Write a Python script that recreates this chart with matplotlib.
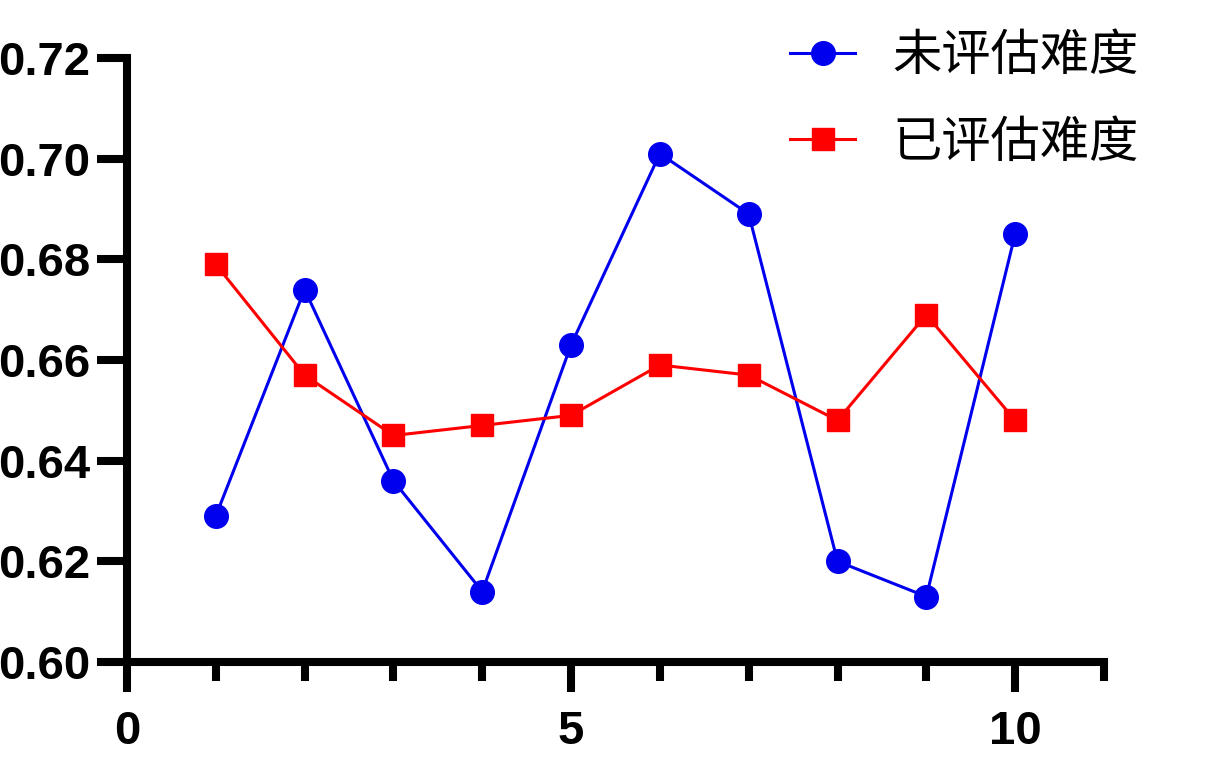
import matplotlib
matplotlib.use("Agg")
from matplotlib import pyplot as plt
from matplotlib.ticker import MultipleLocator, FormatStrFormatter

plt.rcParams['font.family'] = ['Liberation Sans', 'Noto Sans CJK SC', 'DejaVu Sans']

x = [1, 2, 3, 4, 5, 6, 7, 8, 9, 10]
unrated = [0.629, 0.674, 0.636, 0.614, 0.663, 0.701, 0.689, 0.620, 0.613, 0.685]
rated = [0.679, 0.657, 0.645, 0.647, 0.649, 0.659, 0.657, 0.648, 0.669, 0.648]
labels = ["未评估难度", "已评估难度"]

fig = plt.figure(figsize=(12.13, 7.59), dpi=100)
ax = fig.add_axes([0.1047, 0.1278, 0.8054, 0.7958])

ax.plot(x, unrated, color="#0000ee", marker="o", markersize=17, linewidth=2.2,
        label=labels[0], clip_on=False)
ax.plot(x, rated, color="#ff0000", marker="s", markersize=16, linewidth=2.2,
        label=labels[1], clip_on=False)

ax.set_xlim(0, 11)
ax.set_ylim(0.60, 0.72)
ax.xaxis.set_major_locator(MultipleLocator(5))
ax.xaxis.set_minor_locator(MultipleLocator(1))
ax.yaxis.set_major_locator(MultipleLocator(0.02))
ax.yaxis.set_major_formatter(FormatStrFormatter("%.2f"))

for s in ["top", "right"]:
    ax.spines[s].set_visible(False)
for s in ["left", "bottom"]:
    ax.spines[s].set_linewidth(5.8)

ax.tick_params(axis="both", which="major", length=21.6, width=5.8, labelsize=34)
ax.tick_params(axis="x", which="minor", length=14, width=5.8)
ax.tick_params(axis="x", which="major", pad=13)
ax.tick_params(axis="y", which="major", pad=5)
for lab in ax.get_xticklabels() + ax.get_yticklabels():
    lab.set_fontweight("bold")

leg = ax.legend(loc="upper left", bbox_to_anchor=(790 / 1213, 1 - 30 / 759),
                bbox_transform=fig.transFigure, frameon=False,
                prop={"family": "Noto Sans CJK SC", "size": 35.5},
                handlelength=1.32, handletextpad=0.75, labelspacing=0.7,
                borderpad=0, borderaxespad=0)

fig.savefig("out.png", dpi=100)
